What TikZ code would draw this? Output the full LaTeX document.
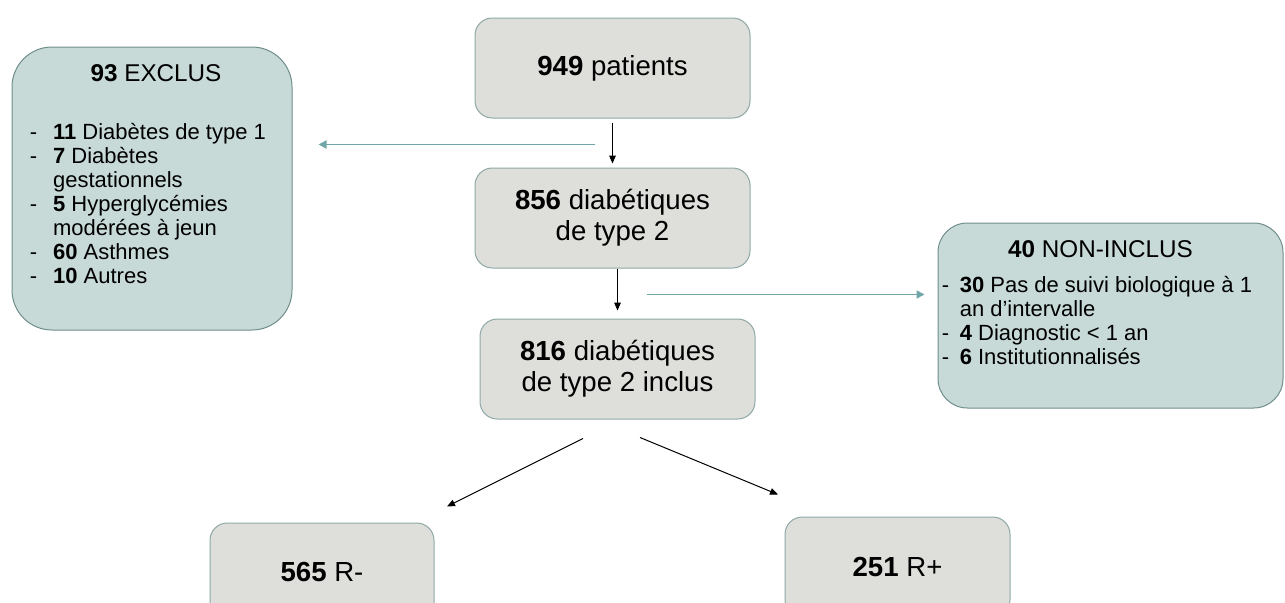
\documentclass[tikz,border=0pt]{standalone}
\usepackage{fontspec}
\setmainfont{Liberation Sans}
\usepackage{xcolor}
\usepackage{tikz}
\usetikzlibrary{positioning,arrows.meta}

\definecolor{boxgray}{RGB}{222,223,218}
\definecolor{boxedge}{RGB}{143,168,166}
\definecolor{sidefill}{RGB}{199,218,216}
\definecolor{sideedge}{RGB}{112,142,140}
\definecolor{tealline}{RGB}{112,166,168}

\newcommand{\mainsize}{\fontsize{20.7}{23.5}\selectfont}
\newcommand{\titlesize}{\fontsize{18.2}{21}\selectfont}
\newcommand{\itemsize}{\fontsize{16.5}{18}\selectfont}

\begin{document}
\begin{tikzpicture}[
  x=0.75pt, y=-0.75pt,
  node distance=36.75pt and 0pt,
  box/.style={draw=boxedge, fill=boxgray, line width=0.75pt, rounded corners=13pt, minimum width=206.25pt, minimum height=75pt, align=center, font=\mainsize, inner sep=0pt},
  sidebox/.style={draw=sideedge, fill=sidefill, line width=0.75pt, inner sep=0pt},
  sidetitle/.style={anchor=base, inner sep=0pt, font=\titlesize},
  sidelist/.style={anchor=north west, inner sep=0pt, font=\itemsize},
  arrow/.style={-{Triangle[length=6pt,width=5pt]}, line width=0.75pt, black},
  tealarrow/.style={-{Triangle[length=6pt,width=6pt]}, line width=1.3pt, tealline}
]
\useasboundingbox (0,0) rectangle (1285,603);
\clip (0,0) rectangle (1285,603);

\node[box] (patients) at (612.5,68) {\textbf{949} patients};
\node[box, below=of patients] (t2dm) {\textbf{856} diabétiques\\de type 2};
\node[box, below=37.5pt of t2dm, xshift=3.75pt] (inclus) {\textbf{816} diabétiques\\de type 2 inclus};
\node[box, minimum width=168pt, minimum height=73.5pt] (rneg) at (322,572) {\textbf{565} R-};
\node[box, minimum width=168.75pt] (rpos) at (897.5,567) {\textbf{251} R+};

\node[sidebox, rounded corners=30pt, minimum width=210pt, minimum height=212.25pt] (exclus) at (152,188.5) {};
\node[sidetitle] (exclustitle) at ([shift={(4,35)}]exclus.north) {\textbf{93} EXCLUS};
\node[sidelist] (excluslist) at ([shift={(18,76)}]exclus.north west) {%
  \begin{tabular}{@{}l@{\hspace{12pt}}l@{}}
  - & \textbf{11} Diabètes de type 1\\
  - & \textbf{7} Diabètes\\
    & gestationnels\\
  - & \textbf{5} Hyperglycémies\\
    & modérées à jeun\\
  - & \textbf{60} Asthmes\\
  - & \textbf{10} Autres
  \end{tabular}};

\node[sidebox, rounded corners=22pt, minimum width=258.75pt, minimum height=138.75pt] (noninclus) at (1110.5,315.5) {};
\node[sidetitle] (noninclustitle) at ([shift={(-10,35)}]noninclus.north) {\textbf{40} NON-INCLUS};
\node[sidelist] (noninclulist) at ([shift={(4,53)}]noninclus.north west) {%
  \begin{tabular}{@{}l@{\hspace{8pt}}l@{}}
  - & \textbf{30} Pas de suivi biologique à 1\\
    & an d’intervalle\\
  - & \textbf{4} Diagnostic < 1 an\\
  - & \textbf{6} Institutionnalisés
  \end{tabular}};

\draw[arrow, shorten <=3pt, shorten >=3pt] (patients) -- (t2dm);
\draw[arrow, shorten >=6pt] (inclus.north |- t2dm.south) -- (inclus.north);
\draw[arrow] ([shift={(-34.5,19)}]inclus.south) -- ([shift={(125,-16)}]rneg.north);
\draw[arrow] ([shift={(22.5,18)}]inclus.south) -- ([shift={(-119.5,-22)}]rpos.north);

\coordinate (exclstart) at ([shift={(-17.5,26)}]patients.south);
\draw[tealarrow] (exclstart) -- ([xshift=19.5pt]exclus.east |- exclstart);
\coordinate (ninclstart) at ([shift={(34.5,26)}]t2dm.south);
\draw[tealarrow] (ninclstart) -- ([xshift=-9.75pt]noninclus.west |- ninclstart);
\end{tikzpicture}
\end{document}
